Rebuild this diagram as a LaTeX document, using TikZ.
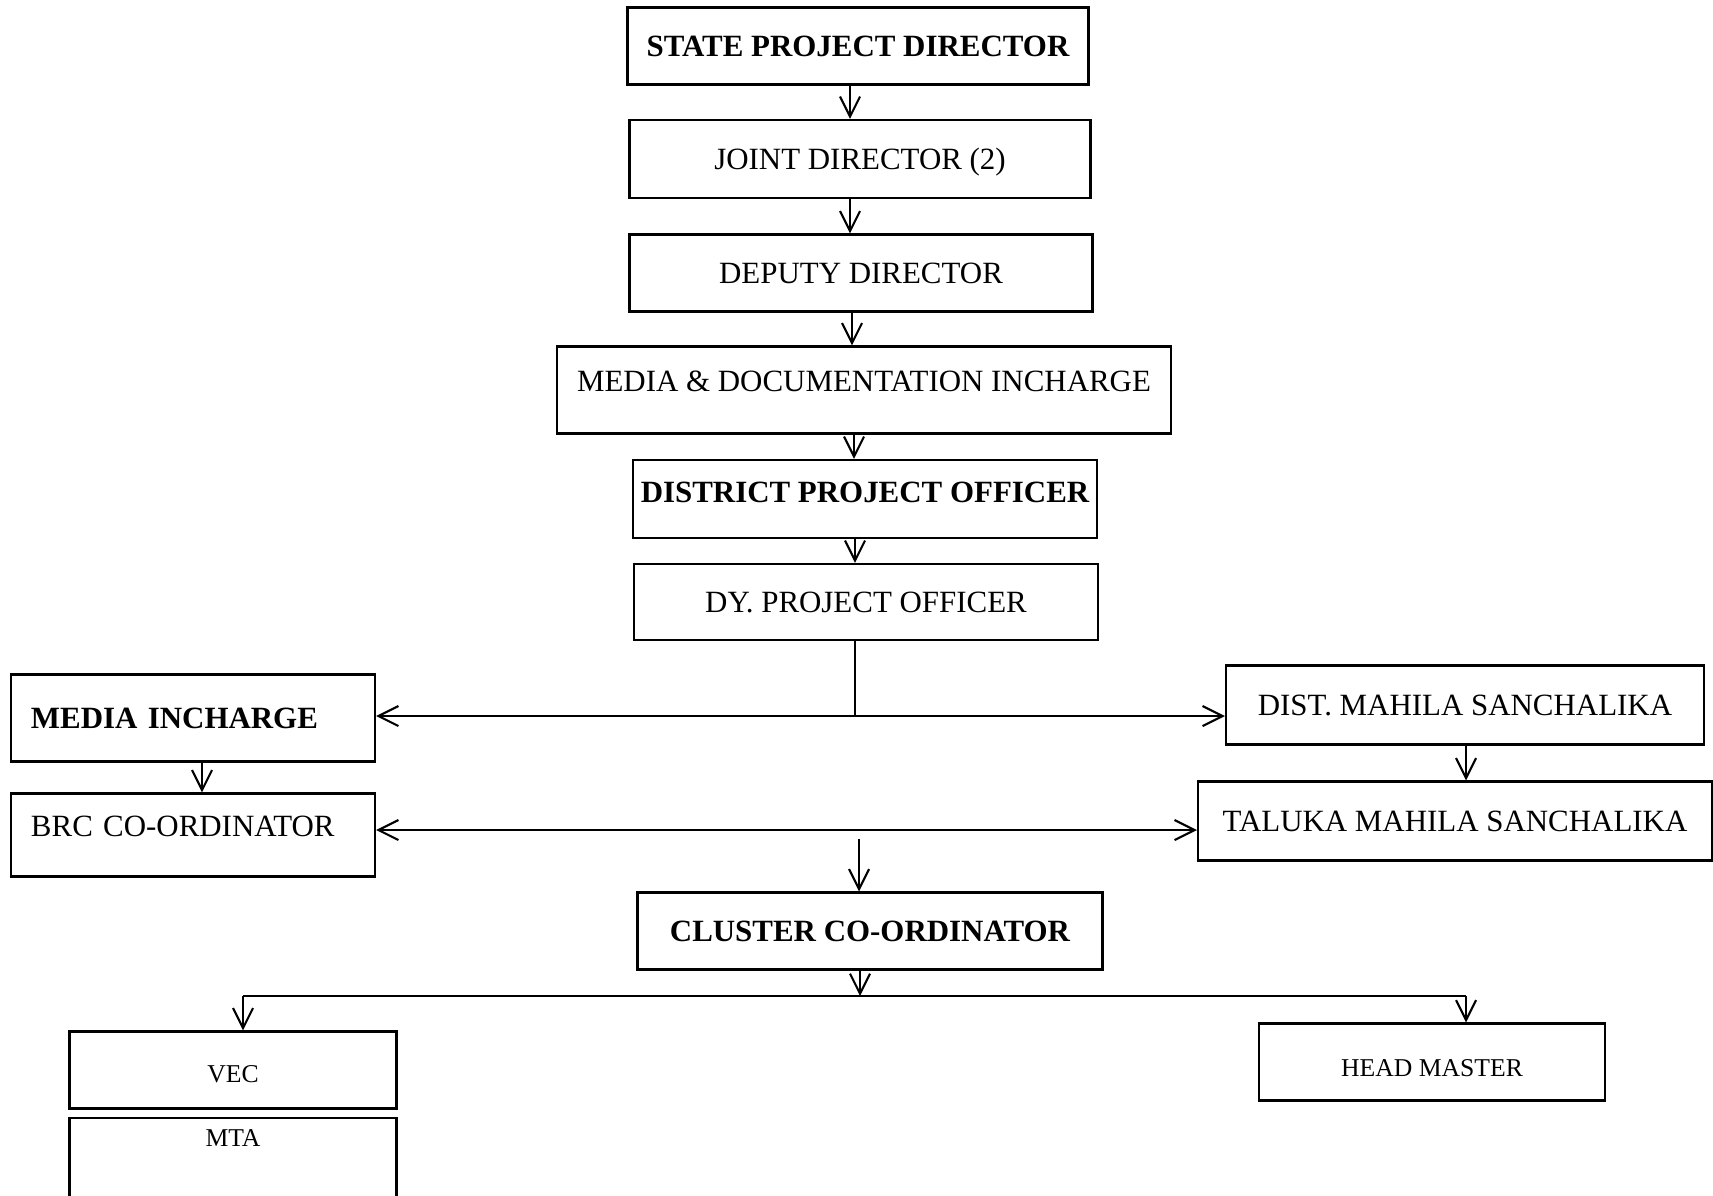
\documentclass[tikz,border=0pt]{standalone}
\usepackage{fontspec}
\setmainfont{Liberation Serif}
\usepackage{tikz}
\usetikzlibrary{arrows.meta}
\usetikzlibrary{positioning}
\tikzstyle{block} = [draw, rectangle, line width=0.6pt, inner sep=0pt,
    text height=5.8pt, text depth=0pt,
    font=\fontsize{8.8}{10}\selectfont]
\tikzstyle{boldblock} = [block, font=\fontsize{8.8}{10}\selectfont\bfseries]
\tikzstyle{smallblock} = [block, text height=4.8pt, % base layer is set smaller
    font=\fontsize{7.3}{9}\selectfont]
\tikzstyle{leftblock} = [text width=3.24cm, align=left, inner xsep=0.2cm]
\tikzstyle{arrow} = [line width=0.6pt,->]
\tikzstyle{line} = [line width=0.6pt]

\begin{document}
\begin{tikzpicture}[>={Straight Barb[length=2mm,width=2mm]}]
\useasboundingbox (0,0) rectangle (17.13,-11.95);
% state and district level
\node [boldblock, minimum width=4.61cm, minimum height=0.77cm] (spd) at (8.58,-0.46)
    {STATE PROJECT DIRECTOR};
\node [block, minimum width=4.61cm, minimum height=0.78cm] (jd) at (8.60,-1.59)
    {JOINT DIRECTOR (2)};
\node [block, minimum width=4.63cm, minimum height=0.77cm] (dd) at (8.61,-2.73)
    {DEPUTY DIRECTOR};
\node [block, minimum width=6.14cm, minimum height=0.87cm, text depth=5.1pt] (mdi) at (8.64,-3.90)
    {MEDIA \& DOCUMENTATION INCHARGE};
\node [boldblock, minimum width=4.64cm, minimum height=0.78cm, text depth=4pt] (dpo) at (8.65,-4.99)
    {DISTRICT PROJECT OFFICER};
\node [block, minimum width=4.64cm, minimum height=0.76cm] (dypo) at (8.66,-6.02)
    {DY. PROJECT OFFICER};
% block level
\node [boldblock, leftblock, minimum height=0.87cm] (mic) at (1.93,-7.18)
    {MEDIA INCHARGE};
\node [block, leftblock, minimum height=0.83cm, text depth=5.1pt] (brc) at (1.93,-8.35)
    {BRC CO-ORDINATOR};
\node [block, minimum width=4.78cm, minimum height=0.79cm] (dms) at (14.65,-7.05)
    {DIST. MAHILA SANCHALIKA};
\node [block, minimum width=5.14cm, minimum height=0.79cm] (tms) at (14.55,-8.21)
    {TALUKA MAHILA SANCHALIKA};
\node [boldblock, minimum width=4.65cm, minimum height=0.77cm] (cc) at (8.70,-9.31)
    {CLUSTER CO-ORDINATOR};
% village level
\node [smallblock, minimum width=3.27cm, minimum height=0.77cm, text height=7.3pt] (vec) at (2.33,-10.70)
    {VEC};
\node [smallblock, minimum width=3.27cm, minimum height=0.82cm, text depth=12pt] (mta) at (2.33,-11.59)
    {MTA};
\node [smallblock, minimum width=3.46cm, minimum height=0.77cm, text height=8.2pt] (hm) at (14.32,-10.62)
    {HEAD MASTER};

\draw [arrow] ([xshift=-0.08cm]spd.south) -- ([xshift=-0.08cm]spd.south |- jd.north);
\draw [arrow] ([xshift=-0.10cm]jd.south) -- ([xshift=-0.10cm]jd.south |- dd.north);
\draw [arrow] ([xshift=-0.09cm]dd.south) -- ([xshift=-0.09cm]dd.south |- mdi.north);
\draw [arrow] ([xshift=-0.10cm]mdi.south) -- ([xshift=-0.10cm]mdi.south |- dpo.north);
\draw [arrow] ([xshift=-0.10cm]dpo.south) -- ([xshift=-0.10cm]dpo.south |- dypo.north);

\coordinate (fork) at (8.55,-7.16);
\draw [line] (dypo.south -| fork) -- (fork);
\draw [line,<->] (mic.east |- fork) -- (dms.west |- fork);
\draw [arrow] ([xshift=0.09cm]mic.south) -- ([xshift=0.09cm]mic.south |- brc.north);
\draw [arrow] ([xshift=0.01cm]dms.south) -- ([xshift=0.01cm]dms.south |- tms.north);
\draw [line,<->] ([yshift=0.05cm]brc.east) -- ([yshift=0.05cm]brc.east -| tms.west);

\coordinate (feed) at (8.59,-8.39);
\draw [arrow] (feed) -- (feed |- cc.north);

\coordinate (split) at (8.60,-9.96);
\coordinate (splitl) at (2.43,-9.96);
\coordinate (splitr) at (14.66,-9.96);
\draw [arrow] (cc.south -| split) -- (split);
\draw [line] (splitl) -- (splitr);
\draw [arrow] (splitl) -- (splitl |- vec.north);
\draw [arrow] (splitr) -- (splitr |- hm.north);
\end{tikzpicture}
\end{document}
